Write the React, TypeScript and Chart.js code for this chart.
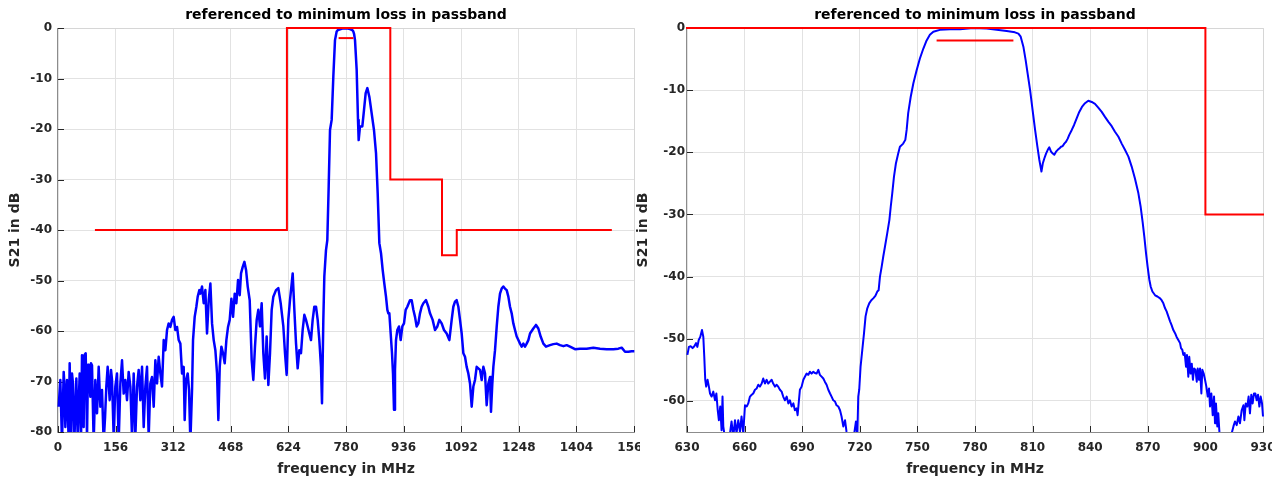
import React, { useEffect, useRef } from 'react';
import { Chart, registerables } from 'chart.js';

Chart.register(...registerables);

// ---------- data ----------
const overviewFreq = [
  1.8, 6.3, 10.8, 15.4, 17.2, 19.9, 24.4, 28.9, 31.6, 35.2, 37.9, 40.6, 44.2, 49.7, 53.3, 58.7, 62.3, 65.0, 69.5, 71.3, 75.0, 78.6, 81.3, 83.1,
  87.6, 89.4, 92.1, 96.6, 101.1, 105.7, 110.2, 114.7, 119.2, 123.7, 127.5, 130.9, 134.5, 140.0, 143.6, 146.3, 150.8, 155.3, 159.8, 164.3, 168.9, 173.4, 177.9,
  182.4, 186.9, 191.4, 196.0, 200.5, 205.0, 209.5, 214.0, 218.5, 223.0, 227.6, 232.1, 236.6, 241.1, 245.6, 250.1, 254.6, 259.2, 263.7, 268.2,
  272.7, 277.2, 281.7, 286.3, 290.8, 295.3, 299.8, 304.3, 308.8, 313.3, 317.9, 322.4, 326.9, 331.4, 335.9, 340.4, 343.1, 346.8, 351.3, 354.9,
  358.5, 363.0, 365.7, 370.2, 374.7, 378.4, 382.9, 385.6, 390.1, 394.6, 399.1, 403.6, 408.2, 412.7, 417.2, 421.7, 426.2, 430.7, 434.3, 438.0,
  442.5, 447.0, 451.5, 456.0, 460.5, 465.0, 469.6, 474.1, 478.6, 483.1, 487.6, 492.1, 495.7, 500.3, 504.8, 509.3, 513.8, 519.2,
  524.5, 529.0, 533.5, 538.1, 542.6, 547.1, 551.6, 556.1, 560.6, 565.1, 569.7, 574.2, 578.7, 583.2, 590.4, 596.7, 603.1, 610.3, 614.8, 619.3,
  623.8, 628.3, 632.9, 635.6, 640.1, 644.6, 649.1, 653.6, 658.1, 662.6, 667.2, 671.7, 676.2, 680.7, 685.2, 689.7, 694.2, 698.8, 703.3, 707.8,
  712.3, 715.0, 718.6, 721.3, 725.8, 729.4, 733.1, 736.7, 741.2, 745.7, 750.2, 754.7, 758.0, 762.0, 770.0, 777.3, 785.0, 790.8, 797.0, 799.9,
  802.0, 804.4, 808.9, 812.5, 814.3, 817.9, 824.2, 828.8, 833.3, 837.8, 843.2, 849.5, 855.8, 861.3, 865.8,
  870.3, 874.8, 879.3, 883.8, 888.3, 892.0, 894.7, 897.4, 901.0, 904.6, 907.3, 910.0, 912.7, 915.4, 919.0, 923.5, 928.1, 932.6, 937.1, 941.6,
  946.1, 953.3, 957.9, 962.4, 966.9, 971.4, 975.9, 980.4, 984.9, 989.5, 996.7, 1003.0, 1007.5, 1014.7, 1021.0, 1027.4, 1032.8, 1039.1, 1045.4, 1052.6,
  1059.9,
  1066.2, 1070.7, 1075.2, 1079.7, 1084.3, 1088.8, 1093.3, 1097.8, 1102.3, 1106.8, 1111.3, 1115.9, 1120.4, 1124.9, 1129.4, 1133.9, 1138.4, 1143.0, 1147.5, 1152.0,
  1156.5, 1161.0, 1165.5, 1170.0, 1172.7, 1176.3, 1179.1, 1183.6, 1188.1, 1192.6, 1197.1, 1201.6, 1206.1, 1210.6, 1215.2, 1219.7, 1224.2, 1228.7, 1233.2, 1237.7,
  1242.3, 1246.8, 1251.3, 1255.8, 1260.3, 1264.8, 1269.3, 1273.9, 1278.4, 1287.4, 1294.6, 1300.9, 1307.2, 1314.5, 1321.7, 1332.5, 1341.6, 1350.6, 1359.6, 1368.7,
  1377.7, 1386.7, 1400.2, 1413.8, 1431.8, 1449.9, 1468.0, 1486.0, 1504.1, 1517.6, 1526.6, 1535.7, 1544.7, 1553.7, 1560.9,
];
const overviewS21 = [
  -75.0, -69.7, -82, -68.1, -70.4, -79.0, -69.7, -82, -66.4, -82, -68.4, -70.4, -82, -69.4, -81, -68.4, -82, -64.8, -79.0, -64.8, -64.4, -81, -66.7, -66.8,
  -73.0, -66.4, -66.8, -82, -69.7, -76.3, -67.1, -75.0, -71.7, -82, -77.0, -71.0, -67.1, -73.7, -67.7, -69.7, -81, -71.0, -68.4, -82, -70.4, -65.8, -72.4,
  -69.7, -73.7, -68.1, -71.0, -81, -68.4, -81, -71.0, -67.7, -73.7, -67.1, -79.0, -71.0, -67.1, -81, -70.4, -69.1, -75.0, -65.8, -70.4,
  -65.1, -68.4, -71.0, -61.8, -63.8, -59.8, -58.5, -59.2, -57.8, -57.2, -59.8, -59.2, -61.8, -62.5, -68.4, -67.1, -77.6, -69.7, -68.4, -71.7,
  -82, -71.7, -61.8, -57.2, -55.2, -53.2, -51.9, -52.6, -51.2, -54.5, -51.9, -60.5, -53.9, -50.6, -58.5, -61.8, -63.8, -68.4, -77.6, -67.1,
  -63.1, -64.4, -66.4, -61.8, -59.2, -57.8, -53.6, -57.2, -52.6, -54.5, -49.9, -52.9, -48.6, -47.3, -46.3, -47.9, -51.2, -53.9,
  -65.7, -69.7, -63.1, -57.8, -55.8, -59.1, -54.5, -64.4, -69.4, -61.1, -70.7, -64.4, -55.8, -53.2, -51.9, -51.5, -54.5, -59.1, -64.4, -68.7,
  -57.8, -53.9, -50.6, -48.6, -55.8, -62.4, -67.4, -63.8, -64.4, -59.8, -56.8, -57.8, -59.1, -60.5, -61.8, -57.8, -55.2, -55.2, -57.8, -61.8,
  -67.1, -74.3, -57.8, -49.2, -44.0, -42.0, -31.4, -20.2, -18.2, -9.6, -2.4, -0.7, -0.4, -0.3, -0.1, -0.1, -0.1, -0.2, -0.4, -0.7,
  -1.2, -2.4, -8.3, -18.2, -22.2, -19.5, -19.5, -16.2, -12.9, -11.9, -13.6, -16.9, -20.2, -24.8, -32.7,
  -42.6, -44.6, -47.9, -50.6, -53.2, -55.8, -56.5, -56.5, -60.5, -64.4, -68.4, -75.6, -67.7, -61.8, -59.8, -59.1, -61.8, -59.1, -58.5, -55.8,
  -55.2, -53.9, -53.9, -55.8, -57.2, -59.1, -58.5, -56.5, -55.2, -54.5, -53.9, -55.2, -56.5, -57.8, -59.8, -59.1, -57.8, -58.5, -59.8, -60.5,
  -61.8,
  -57.8, -55.2, -54.2, -53.9, -55.2, -57.8, -60.5, -64.4, -65.1, -67.1, -68.4, -70.4, -75.0, -71.0, -69.7, -67.1, -67.4, -67.7, -69.7, -67.1,
  -68.4, -74.7, -70.4, -69.1, -76.0, -70.4, -67.1, -63.8, -59.2, -55.2, -52.6, -51.6, -51.2, -51.6, -51.9, -53.2, -55.2, -56.5, -58.5, -59.8,
  -61.1, -61.8, -62.5, -63.1, -62.5, -63.1, -62.5, -61.8, -60.5, -59.5, -58.8, -59.5, -61.1, -62.5, -63.1, -62.8, -62.6, -62.5, -62.8, -63.0,
  -62.8, -63.1, -63.6, -63.5, -63.5, -63.3, -63.5, -63.6, -63.6, -63.5, -63.3, -64.1, -64.1, -64.0, -64.0,
];

const detailFreq = [
  630.2, 631.0, 631.9, 632.9, 633.8, 634.7, 635.4, 636.1, 636.9, 637.8, 638.5, 639.0, 639.5, 640.0, 640.7, 641.4, 642.0, 642.8, 643.7, 644.6,
  645.3, 646.0, 646.6, 647.3, 648.0, 648.5, 648.9, 649.4, 650.6, 652.4, 653.2, 654.1, 655.0, 655.8, 656.7, 657.6, 658.4, 659.3, 660.2, 661.1,
  661.9, 662.8, 663.7, 664.5, 665.4, 666.3, 667.1, 668.0, 668.9, 669.7, 670.6, 671.5, 672.3, 673.2, 674.1, 674.9, 675.8, 676.7, 677.5, 678.4,
  679.3, 680.1, 681.0, 681.9, 682.8, 683.6, 684.5, 685.4, 686.2, 687.1, 687.6, 688.3, 688.8, 689.7, 690.6, 691.4, 692.3, 693.2, 694.0, 694.9,
  695.8, 696.6, 697.5, 698.4, 699.2, 700.1, 701.0, 701.8, 702.7, 703.6, 704.5, 705.3, 706.2, 707.1, 707.9, 708.8, 709.7, 710.5, 711.4, 712.3,
  713.1, 714.0, 716.6, 718.0, 718.7, 719.2, 719.7, 720.4, 721.3, 722.2, 723.0, 723.9, 724.9, 726.0, 727.0, 728.1, 729.1, 729.8, 730.5, 731.4,
  732.2, 733.1,
  734.3, 735.4, 736.1, 736.9, 737.8, 738.8, 740.0, 740.9, 742.6, 743.7, 744.4, 745.2, 746.5, 747.9, 749.6, 751.3, 753.1, 754.8, 756.5, 758.3,
  761.7, 767.0, 772.2,
  779.1, 786.1, 791.3, 796.5, 800.8, 802.6, 803.8, 805.2, 806.4, 807.4, 808.7, 810.0, 811.3, 812.5, 813.5, 814.6, 815.3, 816.1, 817.0, 817.9,
  818.7, 819.6, 820.5, 821.3, 822.2, 823.1, 823.9, 824.8, 825.7, 826.5, 827.4, 828.3, 829.1, 830.4, 831.6, 833.0, 834.3, 835.7, 837.3, 839.0,
  840.8, 842.5, 844.2, 846.0, 847.7, 849.5, 851.2, 852.9, 854.7, 856.4, 858.1, 859.9, 861.6, 863.3, 865.1, 866.3, 867.3, 868.2,
  869.1, 869.9, 870.8, 871.5, 872.4, 873.8, 875.0, 876.4, 877.2, 878.1, 879.0, 879.8, 880.7, 881.6, 882.4, 883.3, 884.2, 885.0, 885.9, 886.8,
  887.3, 888.0, 888.5, 889.2, 889.9, 890.4, 891.1, 891.6, 892.3, 892.9, 893.5, 894.1, 894.8, 895.5, 896.0, 896.7, 897.2, 897.9, 898.4, 899.1,
  899.8, 900.5, 901.2, 901.9, 902.4, 903.1, 903.8, 904.5, 905.0, 905.5, 906.2, 906.7, 907.3, 908.5, 910.2, 912.0, 913.7, 914.6, 915.4, 916.3,
  917.2, 918.0, 918.9, 919.8, 920.3, 921.0, 921.8, 922.5, 923.2, 923.9, 924.6, 925.3, 926.0, 926.7, 927.4, 928.1, 928.8, 929.5, 930.0,
];
const detailS21 = [
  -52.6, -51.3, -51.2, -51.5, -51.2, -50.7, -51.3, -50.2, -49.7, -48.6, -49.7, -52.9, -56.6, -57.7, -56.6, -57.7, -58.8, -59.3, -58.5, -59.9,
  -58.8, -61.5, -63.1, -60.9, -64.7, -59.3, -64.1, -65.2, -66.3, -65.2, -63.3, -65.8, -63.1, -65.2, -63.1, -65.0, -62.5, -65.2, -60.7, -60.9,
  -60.4, -59.3, -59.0, -58.8, -58.2, -58.0, -57.4, -57.7, -57.2, -56.4, -57.2, -56.6, -57.2, -56.9, -56.6, -57.2, -57.7, -57.4, -57.7, -58.2,
  -58.5, -59.3, -59.9, -59.3, -60.4, -59.9, -60.9, -60.4, -61.5, -61.2, -62.3, -59.9, -58.2, -57.7, -56.6, -56.1, -55.6, -55.8, -55.3, -55.6,
  -55.3, -55.5, -55.6, -55.0, -55.8, -56.1, -56.4, -56.9, -57.4, -58.2, -58.8, -59.3, -59.9, -60.1, -60.7, -60.9, -61.5, -62.5, -64.1, -63.1,
  -65.0, -65.8, -66.3, -63.3, -65.8, -59.3, -58.2, -54.5, -51.8, -49.1, -46.4, -45.1, -44.3, -43.8, -43.5, -43.1, -42.4, -42.2, -40.0, -38.4,
  -36.8, -35.2,
  -33.0, -30.9, -28.8, -26.6, -23.9, -21.8, -20.2, -19.1, -18.6, -18.0, -16.4, -13.7, -11.1, -8.9, -6.8, -4.9, -3.3, -2.0, -1.1, -0.6,
  -0.3, -0.2, -0.2,
  0.0, -0.1, -0.3, -0.5, -0.7, -0.9, -1.4, -3.0, -5.2, -7.3, -10.0, -13.2, -16.4, -19.1, -21.2, -23.1, -21.8, -21.0, -20.2, -19.6,
  -19.2, -19.9, -20.2, -20.4, -19.9, -19.6, -19.4, -19.1, -19.0, -18.6, -18.3, -17.8, -17.2, -16.4, -15.6, -14.5, -13.5, -12.7, -12.1, -11.7,
  -11.9, -12.2, -12.8, -13.5, -14.3, -15.1, -15.8, -16.7, -17.5, -18.6, -19.6, -20.7, -22.3, -24.2, -26.6, -28.8, -31.2, -33.6,
  -36.3, -38.4, -40.5, -41.6, -42.4, -43.0, -43.2, -43.5, -43.8, -44.3, -45.1, -45.6, -46.4, -47.2, -47.8, -48.6, -49.1, -49.7, -50.2, -50.7,
  -51.5, -51.8, -52.6, -52.3, -54.5, -52.6, -56.1, -52.9, -55.6, -54.0, -56.6, -54.8, -55.0, -56.9, -54.8, -56.6, -54.8, -58.8, -55.0, -55.6,
  -56.6, -57.7, -59.3, -58.0, -60.9, -58.8, -62.3, -59.3, -63.6, -60.4, -64.1, -62.0, -65.0, -66.3, -65.8, -66.3, -65.2, -64.1, -63.3, -63.9,
  -62.5, -63.6, -61.5, -60.7, -63.1, -60.4, -60.9, -59.3, -62.0, -59.0, -60.4, -58.8, -58.8, -59.9, -59.0, -60.9, -59.3, -60.4, -62.5,
];

// stopband / passband specification mask
const maskFreq = [100, 620, 620, 900, 900, 1040, 1040, 1080, 1080, 1500];
const maskLevel = [-40, -40, 0, 0, -30, -30, -45, -45, -40, -40];
const passFreq = [760, 800];
const passLevel = [-2, -2];

const titleText = 'referenced to minimum loss in passband';
const xTitle = 'frequency in MHz';
const yTitle = 'S21 in dB';

// ---------- styling ----------
const FONT = "'DejaVu Sans', 'Liberation Sans', sans-serif";
const INK = '#262626';

const zip = (xs: number[], ys: number[]) => xs.map((x, i) => ({ x, y: ys[i] }));

const axesPlugin = {
  id: 'matlabAxes',
  beforeDatasetsDraw(chart: any) {
    const { ctx, chartArea: a, scales } = chart;
    const x = scales.x;
    const y = scales.y;
    ctx.save();
    ctx.lineWidth = 1;
    ctx.strokeStyle = '#d6d6d6';
    ctx.beginPath();
    ctx.moveTo(a.left, Math.round(a.top) + 0.5);
    ctx.lineTo(Math.round(a.right) + 0.5, Math.round(a.top) + 0.5);
    ctx.lineTo(Math.round(a.right) + 0.5, a.bottom);
    ctx.stroke();
    ctx.strokeStyle = '#8c8c8c';
    ctx.beginPath();
    ctx.moveTo(Math.round(a.left) - 0.5, a.top);
    ctx.lineTo(Math.round(a.left) - 0.5, Math.round(a.bottom) + 0.5);
    ctx.lineTo(a.right + 1, Math.round(a.bottom) + 0.5);
    ctx.stroke();
    ctx.strokeStyle = INK;
    ctx.beginPath();
    x.ticks.forEach((t: any) => {
      const px = Math.round(x.getPixelForValue(t.value)) + 0.5;
      ctx.moveTo(px, a.bottom);
      ctx.lineTo(px, a.bottom - 6);
    });
    y.ticks.forEach((t: any) => {
      const py = Math.round(y.getPixelForValue(t.value)) + 0.5;
      ctx.moveTo(a.left, py);
      ctx.lineTo(a.left + 6, py);
    });
    ctx.stroke();
    ctx.restore();
  },
};

type PanelCfg = {
  blueX: number[];
  blueY: number[];
  blueWidth: number;
  xMin: number;
  xMax: number;
  xStep: number;
  yMin: number;
  yMax: number;
  yWidth: number;
  yTickPad: number;
  yTitlePad: number;
  padRight: number;
};

const CLIP = { left: 1, right: 1, top: 2, bottom: 0 };

function buildConfig(c: PanelCfg): any {
  const tickFont = { family: FONT, size: 12, weight: 'bold' as const, lineHeight: 1.2 };
  const labelFont = { family: FONT, size: 14, weight: 'bold' as const, lineHeight: 1.2 };
  return {
    type: 'line',
    data: {
      datasets: [
        {
          data: zip(passFreq, passLevel),
          borderColor: '#ff0000',
          borderWidth: 2,
          pointRadius: 0,
          tension: 0,
          fill: false,
          clip: CLIP,
        },
        {
          data: zip(maskFreq, maskLevel),
          borderColor: '#ff0000',
          borderWidth: 2,
          pointRadius: 0,
          tension: 0,
          fill: false,
          clip: CLIP,
        },
        {
          data: zip(c.blueX, c.blueY),
          borderColor: '#0000ff',
          borderWidth: c.blueWidth,
          pointRadius: 0,
          tension: 0,
          fill: false,
          borderJoinStyle: 'round',
          clip: CLIP,
        },
      ],
    },
    options: {
      animation: false,
      responsive: false,
      devicePixelRatio: 1,
      events: [],
      layout: { padding: { left: 0, right: c.padRight, top: 0, bottom: 0 } },
      plugins: {
        legend: { display: false },
        tooltip: { enabled: false },
        title: {
          display: true,
          text: titleText,
          color: '#000000',
          font: labelFont,
          padding: { top: 7, bottom: 4.2 },
          fullSize: false,
        },
      },
      scales: {
        x: {
          type: 'linear',
          min: c.xMin,
          max: c.xMax,
          afterFit: (s: any) => {
            s.height = 50;
            s.paddingLeft = 0;
            s.paddingRight = 0;
          },
          ticks: {
            stepSize: c.xStep,
            autoSkip: false,
            maxRotation: 0,
            includeBounds: false,
            color: INK,
            font: tickFont,
            padding: 9,
            callback: (v: any) => String(v),
          },
          grid: { color: '#e2e2e2', lineWidth: 1, drawTicks: false },
          border: { display: false },
          title: {
            display: true,
            text: xTitle,
            color: INK,
            font: labelFont,
            padding: { top: 0, bottom: 4 },
          },
        },
        y: {
          type: 'linear',
          min: c.yMin,
          max: c.yMax,
          afterFit: (s: any) => {
            s.width = c.yWidth;
            s.paddingTop = 0;
            s.paddingBottom = 0;
          },
          ticks: {
            stepSize: 10,
            includeBounds: false,
            color: INK,
            font: tickFont,
            padding: c.yTickPad,
            callback: (v: any) => String(v),
          },
          grid: { color: '#e2e2e2', lineWidth: 1, drawTicks: false },
          border: { display: false },
          title: {
            display: true,
            text: yTitle,
            color: INK,
            font: labelFont,
            padding: { top: c.yTitlePad, bottom: 0 },
          },
        },
      },
    },
    plugins: [axesPlugin],
  };
}

function Panel({ left, width, cfg }: { left: number; width: number; cfg: PanelCfg }) {
  const ref = useRef<HTMLCanvasElement>(null);
  useEffect(() => {
    if (!ref.current) return;
    const chart = new Chart(ref.current, buildConfig(cfg));
    return () => chart.destroy();
  }, []);
  return (
    <canvas
      ref={ref}
      width={width}
      height={482}
      style={{ position: 'absolute', left, top: 0, width, height: 482, display: 'block' }}
    />
  );
}

export default function App() {
  const leftCfg: PanelCfg = {
    blueX: overviewFreq,
    blueY: overviewS21,
    blueWidth: 2.5,
    xMin: 0,
    xMax: 1560,
    xStep: 156,
    yMin: -80,
    yMax: 0,
    yWidth: 58,
    yTickPad: 6,
    yTitlePad: 7,
    padRight: 6,
  };
  const rightCfg: PanelCfg = {
    blueX: detailFreq,
    blueY: detailS21,
    blueWidth: 2,
    xMin: 630,
    xMax: 930,
    xStep: 30,
    yMin: -65,
    yMax: 0,
    yWidth: 57,
    yTickPad: 2,
    yTitlePad: 4.6,
    padRight: 9,
  };
  return (
    <div style={{ position: 'absolute', left: 0, top: 0, width: 1287, height: 482, background: '#ffffff', overflow: 'hidden' }}>
      <Panel left={0} width={640} cfg={leftCfg} />
      <Panel left={630} width={642} cfg={rightCfg} />
    </div>
  );
}
